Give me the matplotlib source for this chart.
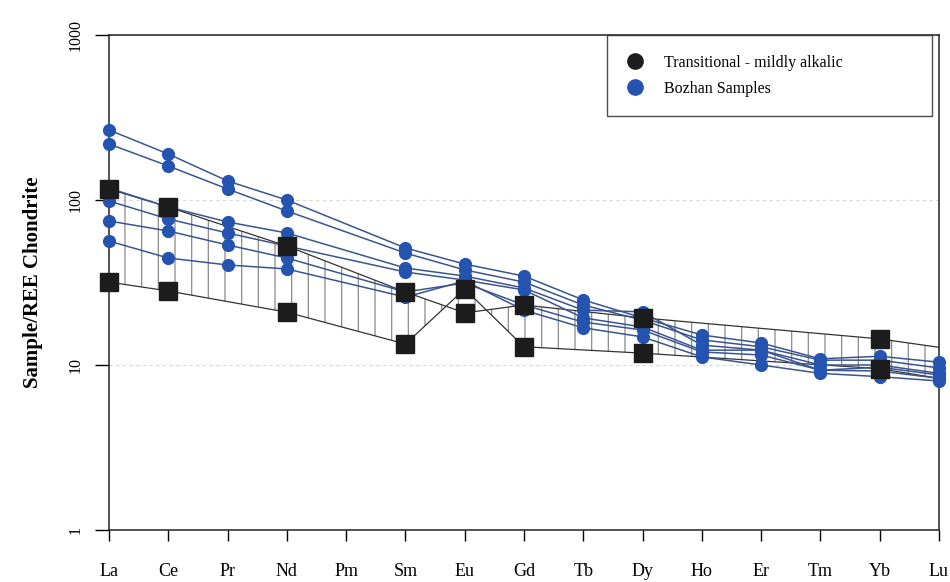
import numpy as np
import matplotlib
matplotlib.use("Agg")
import matplotlib.pyplot as plt
from matplotlib.lines import Line2D

plt.rcParams['font.family'] = ['Liberation Serif', 'DejaVu Serif']
plt.rcParams['hatch.linewidth'] = 0.9
plt.rcParams['hatch.color'] = '#8a8a8a'

# REE order along the x axis
elements = ['La', 'Ce', 'Pr', 'Nd', 'Pm', 'Sm', 'Eu', 'Gd', 'Tb', 'Dy',
            'Ho', 'Er', 'Tm', 'Yb', 'Lu']

# transitional - mildly alkalic reference field (two bounding samples)
trans_elems = ['La', 'Ce', 'Nd', 'Sm', 'Eu', 'Gd', 'Dy', 'Yb', 'Lu']
trans_a = [116.6, 90.7, 52.6, 27.7, 20.7, 23.1, 19.3, 14.4, 12.8]
trans_b = [31.8, 28.1, 20.9, 13.4, 28.9, 12.9, 11.8, 9.5, 8.3]

# Bozhan samples (no Pm)
bozhan_elems = ['La', 'Ce', 'Pr', 'Nd', 'Sm', 'Eu', 'Gd', 'Tb', 'Dy',
                'Ho', 'Er', 'Tm', 'Yb', 'Lu']
bozhan_1 = [265.6, 190.0, 130.4, 100.0, 51.2, 40.9, 34.6, 24.8, 19.3, 15.2, 13.6, 10.9, 11.3, 10.4]
bozhan_2 = [218.5, 160.8, 116.6, 85.8, 47.7, 37.7, 31.8, 23.1, 18.7, 14.2, 12.9, 10.7, 10.7, 9.6]
bozhan_3 = [118.0, 90.7, 73.6, 63.1, 38.7, 34.6, 29.3, 21.5, 21.0, 13.2, 12.3, 10.0, 10.0, 8.9]
bozhan_4 = [98.6, 76.7, 63.1, 52.6, 36.6, 32.7, 28.5, 19.3, 17.0, 12.3, 12.3, 9.3, 9.7, 8.7]
bozhan_5 = [74.6, 64.9, 53.4, 44.5, 27.7, 31.4, 23.1, 18.2, 16.3, 12.0, 11.5, 9.3, 9.2, 8.3]
bozhan_6 = [56.4, 44.5, 40.4, 38.2, 25.8, 32.3, 21.5, 16.8, 14.8, 11.2, 10.0, 8.9, 8.5, 8.0]
bozhan = [bozhan_1, bozhan_2, bozhan_3, bozhan_4, bozhan_5, bozhan_6]

pos = {e: i for i, e in enumerate(elements)}
xt = [pos[e] for e in trans_elems]
xb = [pos[e] for e in bozhan_elems]

fig = plt.figure(figsize=(9.5, 5.82), dpi=100)
ax = fig.add_axes([0.1147, 0.0893, 0.8737, 0.8506])

# hatched field between the two transitional samples
ax.fill_between(xt, trans_a, trans_b, facecolor='none', hatch='|',
                edgecolor='#8a8a8a', linewidth=0, zorder=1)
for ys in (trans_a, trans_b):
    ax.plot(xt, ys, color='#333333', lw=0.9, zorder=2)
    ax.plot(xt[:-1], ys[:-1], ls='none', marker='s', ms=12.5,
            color='#1c1c1c', zorder=5, clip_on=False)

blue_line = '#3a5590'
blue_mark = '#2453b0'
for ys in bozhan:
    ax.plot(xb, ys, color=blue_line, lw=1.1, zorder=3)
    ax.plot(xb, ys, ls='none', marker='o', ms=9.5, color=blue_mark,
            markeredgewidth=0, zorder=4, clip_on=False)

ax.set_yscale('log')
ax.set_ylim(1, 1000)
ax.set_xlim(0, 14)
ax.set_yticks([1, 10, 100, 1000])
ax.set_yticklabels(['1', '10', '100', '1000'])
ax.minorticks_off()
ax.set_xticks(range(len(elements)))
ax.set_xticklabels(elements, fontsize=13)
ax.tick_params(axis='x', direction='out', length=8, width=1, pad=16)
ax.tick_params(axis='y', direction='out', length=10, width=1, pad=8,
               labelsize=11.5, labelrotation=90)
for lbl in ax.get_yticklabels():
    lbl.set_va('center')

ax.yaxis.grid(True, ls=(0, (3, 3)), color='#d8d8d8', lw=0.8)
ax.set_axisbelow(True)
for s in ax.spines.values():
    s.set_linewidth(1.1)
    s.set_color('#222222')

ax.set_ylabel('Sample/REE Chondrite', fontsize=15, fontweight='bold',
              labelpad=18)

handles = [
    Line2D([], [], ls='none', marker='o', ms=11, color='#1c1c1c'),
    Line2D([], [], ls='none', marker='o', ms=11, color=blue_mark),
]
leg = ax.legend(handles, ['Transitional - mildly alkalic', 'Bozhan Samples'],
                loc='upper left', bbox_to_anchor=(0.6, 1.0, 0.392, 0.0),
                mode='expand', fontsize=11.5, frameon=True, fancybox=False,
                borderpad=1.25, labelspacing=0.6, handlelength=1.0,
                handletextpad=1.3, borderaxespad=0)
leg.get_frame().set_edgecolor('#222222')
leg.get_frame().set_linewidth(1.0)
leg.set_zorder(10)

fig.savefig('out.png', dpi=100)
